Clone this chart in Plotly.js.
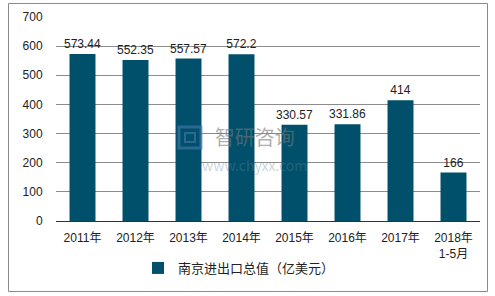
<!DOCTYPE html>
<html>
<head>
<meta charset="utf-8">
<script src="https://cdn.plot.ly/plotly-3.0.1.min.js"></script>
<style>html,body{margin:0;padding:0;background:#fff;}#chart{width:495px;height:296px;}</style>
</head>
<body>
<div id="chart"></div>
<script>
const categories = ["2011年", "2012年", "2013年", "2014年", "2015年", "2016年", "2017年", "2018年<br>1-5月"];
const values = [573.44, 552.35, 557.57, 572.2, 330.57, 331.86, 414, 166];
const valueLabels = ["573.44", "552.35", "557.57", "572.2", "330.57", "331.86", "414", "166"];
const seriesName = "南京进出口总值（亿美元）";
const yTicks = [0, 100, 200, 300, 400, 500, 600, 700];

const FONT = '"Liberation Sans", Arial, "Noto Sans CJK SC", sans-serif';
const L = 56, R = 480, T = 17, B = 221, W = 495, H = 296;
const px = x => (x - L) / (R - L);
const py = y => (B - y) / (B - T);

const trace = {
  type: 'bar',
  x: categories,
  y: values,
  name: seriesName,
  text: valueLabels,
  textposition: 'outside',
  constraintext: 'none',
  cliponaxis: false,
  textfont: {family: FONT, size: 12, color: '#222'},
  marker: {color: '#00506B'},
  hoverinfo: 'x+y'
};

const layout = {
  width: W, height: H,
  margin: {l: L, r: W - R, t: T, b: H - B, pad: 0},
  paper_bgcolor: '#fff', plot_bgcolor: '#fff',
  font: {family: FONT, size: 12, color: '#222'},
  bargap: 0.51,
  showlegend: true,
  legend: {orientation: 'h', x: px(239), xanchor: 'center', y: py(268), yanchor: 'middle',
           font: {family: FONT, size: 13, color: '#222'}, itemwidth: 30, bgcolor: 'rgba(0,0,0,0)'},
  xaxis: {
    type: 'category', showgrid: false, zeroline: false,
    showline: true, linecolor: '#333', linewidth: 1,
    ticks: 'outside', ticklen: 6, tickcolor: 'rgba(0,0,0,0)',
    tickfont: {family: FONT, size: 12, color: '#222'}, fixedrange: true
  },
  yaxis: {
    range: [0, 700], tickvals: yTicks, ticktext: yTicks.map(String),
    showgrid: true, gridcolor: '#8c8c8c', gridwidth: 1, zeroline: false,
    showline: false,
    ticks: 'outside', ticklen: 10, tickcolor: 'rgba(0,0,0,0)',
    tickfont: {family: FONT, size: 12, color: '#222'}, fixedrange: true
  },
  shapes: [
    {type: 'rect', xref: 'paper', yref: 'paper',
     x0: px(8.5), x1: px(487.5), y0: py(291.5), y1: py(3.5),
     line: {color: '#8a8a8a', width: 1}, fillcolor: 'rgba(0,0,0,0)', layer: 'below'},
    {type: 'rect', xref: 'paper', yref: 'paper',
     x0: px(179), x1: px(201), y0: py(148), y1: py(127),
     line: {color: 'rgba(70,120,170,0.6)', width: 3}, fillcolor: 'rgba(0,0,0,0)', layer: 'above'},
    {type: 'rect', xref: 'paper', yref: 'paper',
     x0: px(185), x1: px(195), y0: py(142), y1: py(133),
     line: {color: 'rgba(70,120,170,0.6)', width: 2}, fillcolor: 'rgba(0,0,0,0)', layer: 'above'}
  ],
  annotations: [
    {xref: 'paper', yref: 'paper', x: px(254), y: py(149), yanchor: 'middle', align: 'center',
     text: '智研咨询<br><span style="font-size:14px;color:rgba(110,130,150,0.6)">www.chyxx.com</span>',
     showarrow: false,
     font: {family: '"Noto Sans CJK SC", sans-serif', size: 20, color: 'rgba(120,120,120,0.6)'}}
  ]
};

Plotly.newPlot('chart', [trace], layout, {displayModeBar: false, staticPlot: true});
</script>
</body>
</html>
